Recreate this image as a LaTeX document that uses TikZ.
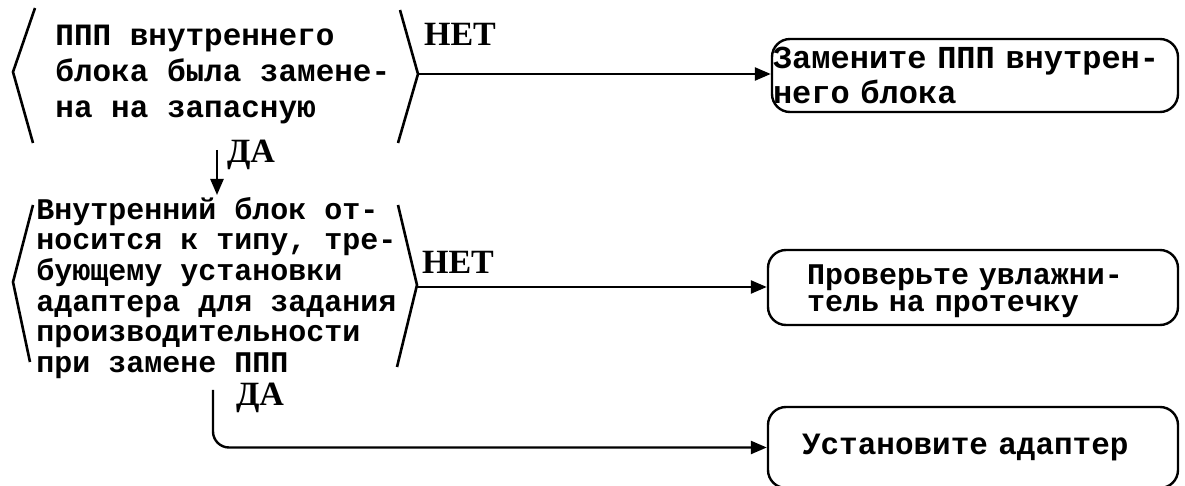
\documentclass[tikz,border=0pt]{standalone}
\usepackage{fontspec}
\setmonofont{Liberation Mono}[WordSpace={1,0,0}]
\newfontfamily\yesnofont{Liberation Serif}
\usetikzlibrary{arrows.meta}

\tikzset{
  txt/.style={font=\ttfamily\bfseries\fontsize{15.5}{17.5}\selectfont, align=left, inner sep=0pt},
  yesno/.style={font=\yesnofont\bfseries\fontsize{17}{18}\selectfont, inner sep=0pt},
  act/.style={txt, draw, line width=1.2pt, rounded corners=9pt, text width=#1},
  arr/.style={line width=1.2pt, -{Triangle[length=8pt,width=6.5pt]}},
}

\begin{document}
\begin{tikzpicture}[x=0.5pt, y=-0.5pt]
  \useasboundingbox (0,0) rectangle (1185,486); % Set margins

  % questions
  \draw[line width=1.3pt] (35,8)--(13,72)--(33,143) (400,10)--(418,74)--(398,143);
  \coordinate (q1e) at (418,74);
  \coordinate (q1s) at (217,150);
  \node[txt, anchor=west, font=\ttfamily\bfseries\fontsize{15.5}{18}\selectfont] (q1) at (55,75) {ППП внутреннего\\блока была замене-\\на на запасную};

  \draw[line width=1.3pt] (33,205)--(13,282)--(30,362) (398,205)--(417,285)--(397,367);
  \coordinate (q2e) at (417,287);
  \coordinate (q2n) at (217,195);
  \coordinate (q2s) at (213,390);
  \node[txt, anchor=west, font=\ttfamily\bfseries\fontsize{15}{15.3}\selectfont] (q2) at (36,288)
    {Внутренний блок от-\\носится к типу, тре-\\бующему установки\\адаптера для задания\\производительности\\при замене ППП};

  % actions
  \node[act=202pt, inner xsep=0.5pt, minimum height=36.5pt, font=\ttfamily\bfseries\fontsize{16}{17.5}\selectfont] (a1) at (975,75.5) {Замените ППП внутрен-\\него блока};
  \node[act=166pt, inner xsep=19.5pt, minimum height=37.5pt, font=\ttfamily\bfseries\fontsize{15}{13.5}\selectfont] (a2) at (973,287.5) {\rule{0pt}{14pt}Проверьте увлажни-\\тель на протечку};
  \node[act=171pt, inner xsep=17pt, minimum height=40.5pt] (a3) at (973,447.5) {Установите адаптер};

  % labels
  \node[yesno] (no1) at (460,34) {НЕТ};
  \node[yesno] (no2) at (458,262) {НЕТ};
  \node[yesno] (yes1) at (251,155) {ДА};
  \node[yesno] (yes2) at (260,398) {ДА};

  % connectors
  \draw[arr] (q1e) -- (q1e -| a1.west);
  \draw[arr] (q2e) -- (q2e -| a2.west);
  \draw[arr] (q1s) -- (q2n);
  \draw[arr, rounded corners=8pt] (q2s) |- (a3.west);
\end{tikzpicture}
\end{document}
